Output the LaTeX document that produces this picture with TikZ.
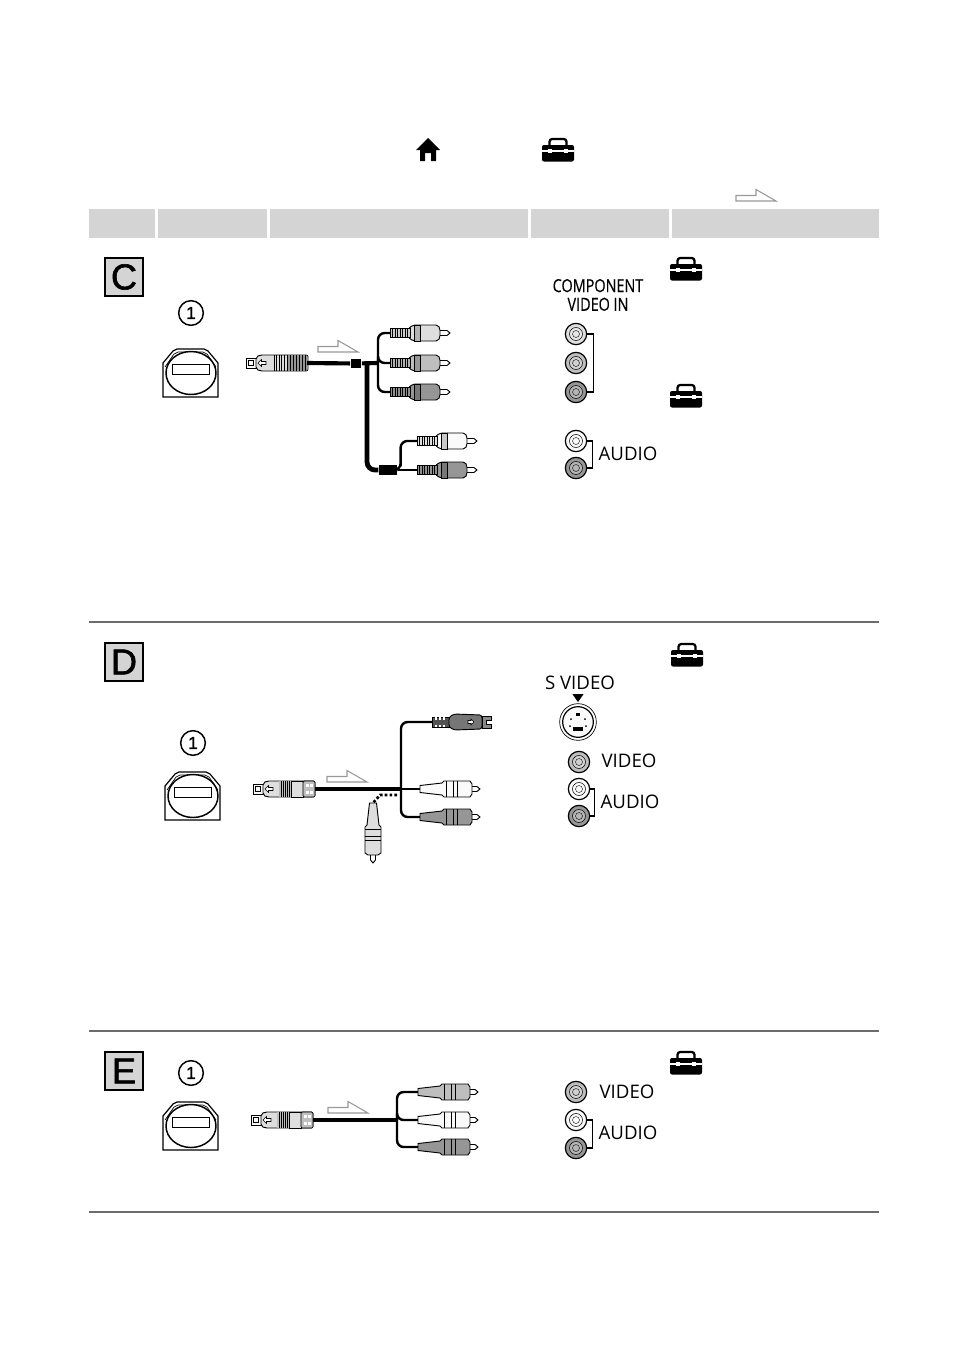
\documentclass[tikz,border=0pt]{standalone}
\usepackage{fontspec}
\setmainfont{Open Sans}
\newfontfamily\tagfont[FakeBold=1.6]{Liberation Sans}
\newfontfamily\narrowfont[FakeStretch=.8,FakeBold=.3]{Open Sans}
\usetikzlibrary{arrows.meta,positioning,calc,shapes.geometric}
\definecolor{hc}{RGB}{212,212,212}
\definecolor{wc}{RGB}{250,250,250}
\definecolor{lc}{RGB}{222,222,222}
\definecolor{mc}{RGB}{190,190,190}
\definecolor{dc}{RGB}{150,150,150}
\definecolor{kc}{RGB}{118,118,118}
\tikzset{bar/.style={fill=hc,draw=none},
 tag/.style={draw,fill=hc,line width=1.3pt,minimum size=28pt,inner sep=0pt,font=\tagfont\fontsize{27}{27}\selectfont},
 numc/.style={draw,circle,line width=1.1pt,minimum size=18.5pt,inner sep=0pt,font=\tagfont\fontsize{13}{13}\selectfont},
 sock/.style={draw,circle,line width=.9pt,minimum size=16pt,inner sep=0pt,
  path picture={\draw[line width=.4pt,fill=white,fill opacity=.3] (path picture bounding box.center) circle (6.5);
   \draw[line width=.3pt] (path picture bounding box.center) circle (3.5);}},
 lab/.style={inner sep=0pt,font=\fontsize{14}{15}\selectfont},
 cab/.style={line width=3.1pt},
 cabt/.style={line width=3.6pt,rounded corners=6pt},
 cabn/.style={line width=1.8pt,rounded corners=5pt},
 wire/.style={line width=.9pt},
 blk/.style={fill=black,inner sep=0pt,outer sep=.8pt},
 rib/.style={line width=.45pt},
 hline/.style={draw=gray!85!black},
 pics/casekit/.style={code={
  \draw[line width=1.7pt,rounded corners=2pt] (-8.5,-4)--(-8.5,-11)--(8.5,-11)--(8.5,-4);
  \fill[rounded corners=1.5pt] (-16,-5) rectangle (16,11.5);
  \fill[white] (-16,0) rectangle (16,1.5);
  \foreach \s in {-8,8}{\fill[white] (\s-2,-1) rectangle (\s+2,2.5);}}},
 pics/homeic/.style={code={
  \fill (-12,0)--(0,-12)--(12,0)--(8,0)--(8,11)--(3,11)--(3,3)--(-3,3)--(-3,11)--(-8,11)--(-8,0)--cycle;}},
 pics/flow/.style={code={
  \draw[draw=gray!80,fill=white,line width=.8pt] (0,0)--(40,0)--(20,-11.5)--(20,-5.5)--(0,-5.5)--cycle;}},
 pics/dock/.style={code={
  \draw[line width=.9pt] (0,48)--(0,14)--(10,2)--(14,0)--(41,0)--(45,2)--(55,14)--(55,48)--cycle;
  \draw[line width=.5pt] (2,18)--(11,5)--(15,3)--(40,3)--(44,5)--(53,18);
  \draw[line width=1.1pt,fill=white] (28,24) ellipse (25 and 21.5);
  \draw[line width=.7pt] (9,15.5) rectangle (46,25.5);}},
 pics/rcaplug/.style={code={
  \draw[line width=.7pt,fill=white] (48,-2.5)--(57,-2.5)--(60,0)--(57,2.5)--(48,2.5)--cycle;
  \draw[line width=.7pt,fill=#1,rounded corners=1.5pt] (18,-4)--(23,-8)--(48,-8)--(50,-4.5)--(50,4.5)--(48,8)--(23,8)--(18,4)--cycle;
  \draw[line width=.4pt,fill=#1!80!black] (24,-8) rectangle (30,8);
  \draw[line width=.7pt,fill=#1!80!gray] (0,-4.5) rectangle (20,4.5);
  \foreach \s in {2.5,5,...,18}{\draw[rib] (\s,-4.5)--(\s,4.5);}}},
 pics/taperplug/.style={code={
  \draw[line width=.7pt,fill=white] (50,-2.5)--(57,-2.5)--(60,0)--(57,2.5)--(50,2.5)--cycle;
  \draw[line width=.7pt,fill=#1] (0,-3.5)--(22,-6)--(24,-8)--(50,-8)--(52,-5)--(52,5)--(50,8)--(24,8)--(22,6)--(0,3.5)--cycle;
  \draw[line width=.4pt] (26,-8)--(26,8) (33,-8)--(33,8) (37,-8)--(37,8);}},
 pics/dinplug/.style={code={
  \draw[line width=.7pt,fill=#1!70!black] (0,-5) rectangle (17,5);
  \foreach \s in {4,8,12}{\draw[line width=1pt,white] (\s,-5)--(\s,-2.5) (\s,2.5)--(\s,5);}
  \draw[line width=.7pt,fill=#1,rounded corners=2pt] (17,-5)--(22,-8)--(50,-7)--(50,7)--(22,8)--(17,5)--cycle;
  \draw[line width=.7pt,fill=#1!85!white] (50,-6)--(59,-6)--(59,-2)--(54,-2)--(54,2)--(59,2)--(59,6)--(50,6)--cycle;
  \draw[line width=.4pt,fill=wc] (42,0)--(39,-3)--(39,-1.5)--(36,-1.5)--(36,1.5)--(39,1.5)--(39,3)--cycle;}},
 pics/jackbase/.style={code={
  \draw[line width=.7pt,fill=wc] (0,-5) rectangle (11,5);
  \draw[line width=.4pt] (2,-2.5) rectangle (7,2.5);
  \draw[line width=.7pt,fill=lc,rounded corners=1.5pt] (10,-6)--(14,-8)--(62,-8)--(62,8)--(14,8)--(10,6)--cycle;
  \draw[line width=.4pt,fill=white] (12,0)--(15.5,-3.5)--(15.5,-1.5)--(20,-1.5)--(20,1.5)--(15.5,1.5)--(15.5,3.5)--cycle;}},
 pics/jackc/.style={code={
  \pic {jackbase};
  \foreach \s in {28,30.5,...,40}{\draw[rib] (\s,-8)--(\s,8);}
  \fill[dc,rounded corners=1pt] (41,-7.7) rectangle (61.7,7.7);
  \foreach \s in {41,44,...,61}{\draw[rib] (\s,-8)--(\s,8);}}},
 pics/jackd/.style={code={
  \pic {jackbase};
  \fill[mc] (26,-7.7) rectangle (38,7.7);
  \foreach \s in {28,30,...,38}{\draw[rib] (\s,-8)--(\s,8);}
  \draw[rib,fill=lc] (38,-8) rectangle (50,8);
  \draw[rib,fill=mc,rounded corners=1pt] (50,-8) rectangle (62,8);
  \foreach \s in {-3.5,3.5}{\fill[white] (52.5,\s-1.8) rectangle (55.5,\s+1.8); \fill[white] (57,\s-1.8) rectangle (60,\s+1.8);}}}}

\begin{document}
\begin{tikzpicture}[x=.75pt,y=-.75pt]
\useasboundingbox (0,0) rectangle (954,1356);
\foreach \a/\b in {89/155,158/267,270/528,531/669,672/879}{\fill[bar] (\a,209) rectangle (\b,238);}
\pic at (428,150) {homeic};
\pic at (558,150) {casekit};
\pic at (736,201) {flow};

% C
\node[tag] (ctag) at (124,277) {C};
\node[numc] (cnum) at (191,313) {1};
\pic at (163,349) {dock};
\pic at (246,363) {jackc};
\pic at (318,352) {flow};
\coordinate (cout) at (307,363);
\node[blk,minimum size=7.2pt] (csq) at (356,363.5) {};
\coordinate (chub) at (378,363);
\draw[cab] (cout)--(csq);
\draw[cab] (csq)--(chub);
\foreach \n/\y/\c in {cy/333/lc,cb/363/mc,cr/392/dc}{
 \coordinate (\n) at (390,\y);
 \draw[cabn] (chub)|-(\n);
 \pic at (\n) {rcaplug=\c};}
\coordinate (cbend) at (367,365);
\node[blk,minimum width=13pt,minimum height=7.2pt] (crect) at (388,470) {};
\draw[cabt] (cbend)|-(crect);
\coordinate (cw) at (417,441);
\coordinate (ck) at (417,470);
\draw[cabn] (crect)-|($(crect.east)!.15!(ck)$)|-(cw);
\draw[cabn] (crect)--(ck);
\pic at (cw) {rcaplug=wc};
\pic at (ck) {rcaplug=dc};
\node[align=center,inner sep=0pt,font=\narrowfont\fontsize{13.5}{14}\selectfont] (ctext) at (598,295) {COMPONENT\\VIDEO IN};
\node[sock,fill=lc] (c1) at (576,334) {};
\node[sock,fill=mc] (c2) at (576,363) {};
\node[sock,fill=dc] (c3) at (576,392) {};
\draw[wire] (c1.east)--++(6,0)|-(c3.east);
\node[sock,fill=wc] (c4) at (576,441) {};
\node[sock,fill=dc] (c5) at (576,468) {};
\draw[wire] (c4.east)--++(5,0)|-(c5.east);
\node[lab] (cau) at (628,454) {AUDIO};
\pic at (686,269) {casekit};
\pic at (686,396) {casekit};

\draw[hline,line width=1.5pt] (89,622)--(879,622);

% D
\node[tag] (dtag) at (124,662) {D};
\node[numc] (dnum) at (193,743) {1};
\pic at (165,772) {dock};
\pic at (253,789) {jackd};
\pic at (327,782) {flow};
\coordinate (dout) at (315,789);
\coordinate (dhub) at (401,789);
\draw[cab] (dout)--(dhub);
\coordinate (ds) at (432,722);
\coordinate (dw) at (420,789);
\coordinate (dr) at (420,817);
\draw[cabn] (dhub)|-(ds);
\draw[cabn] (dhub)--(dw);
\draw[cabn] (dhub)|-(dr);
\pic at (ds) {dinplug=kc};
\pic at (dw) {taperplug=wc};
\pic at (dr) {taperplug=dc};
\coordinate (dtap) at (397,795);
\coordinate (dv) at (373,803);
\draw[line width=2pt,dash pattern=on 2pt off 1.6pt] (dtap)--(380,795)--(dv);
\pic[rotate=-90] at (dv) {taperplug=lc};
\node[lab] (dsv) at (580,683) {S VIDEO};
\node[isosceles triangle,shape border rotate=-90,isosceles triangle apex angle=70,fill=black,inner sep=0pt,minimum size=6pt] (dtri) at (578,697) {};
\node[draw,circle,line width=.5pt,minimum size=27.5pt,inner sep=0pt] (dsk) at (578,722) {};
\node[draw,circle,line width=.9pt,fill=wc,minimum size=23pt,inner sep=0pt] (dsi) at (578,722) {};
\fill (573,727) rectangle (583,731);
\fill (576,712.5) rectangle (580,715.5);
\foreach \a/\b in {-7/-3,7/-3,-8/4,8/4}{\fill (578+\a,722+\b) circle (1);}
\node[sock,fill=mc] (d1) at (579,762) {};
\node[sock,fill=wc] (d2) at (579,789) {};
\node[sock,fill=dc] (d3) at (579,816) {};
\draw[wire] (d2.east)--++(4,0)|-(d3.east);
\node[lab] (dvi) at (629,761) {VIDEO};
\node[lab] (dau) at (630,802) {AUDIO};
\pic at (687,655) {casekit};

\draw[hline,line width=1pt] (89,1031)--(879,1031);

% E
\node[tag] (etag) at (124,1071) {E};
\node[numc] (enum) at (191,1073) {1};
\pic at (163,1102) {dock};
\pic at (251,1120) {jackd};
\pic at (328,1113) {flow};
\coordinate (eout) at (313,1120);
\coordinate (ehub) at (397,1120);
\draw[cab] (eout)--(ehub);
\foreach \n/\y/\c in {ey/1092/mc,ew/1120/wc,er/1147/dc}{
 \coordinate (\n) at (418,\y);
 \draw[cabn] (ehub)|-(\n);
 \pic at (\n) {taperplug=\c};}
\node[sock,fill=mc] (e1) at (576,1092) {};
\node[sock,fill=wc] (e2) at (576,1120) {};
\node[sock,fill=dc] (e3) at (576,1148) {};
\draw[wire] (e2.east)--++(5,0)|-(e3.east);
\node[lab] (evi) at (627,1092) {VIDEO};
\node[lab] (eau) at (628,1133) {AUDIO};
\pic at (686,1063) {casekit};

\draw[hline,line width=1pt] (89,1212)--(879,1212);
\end{tikzpicture}
\end{document}
